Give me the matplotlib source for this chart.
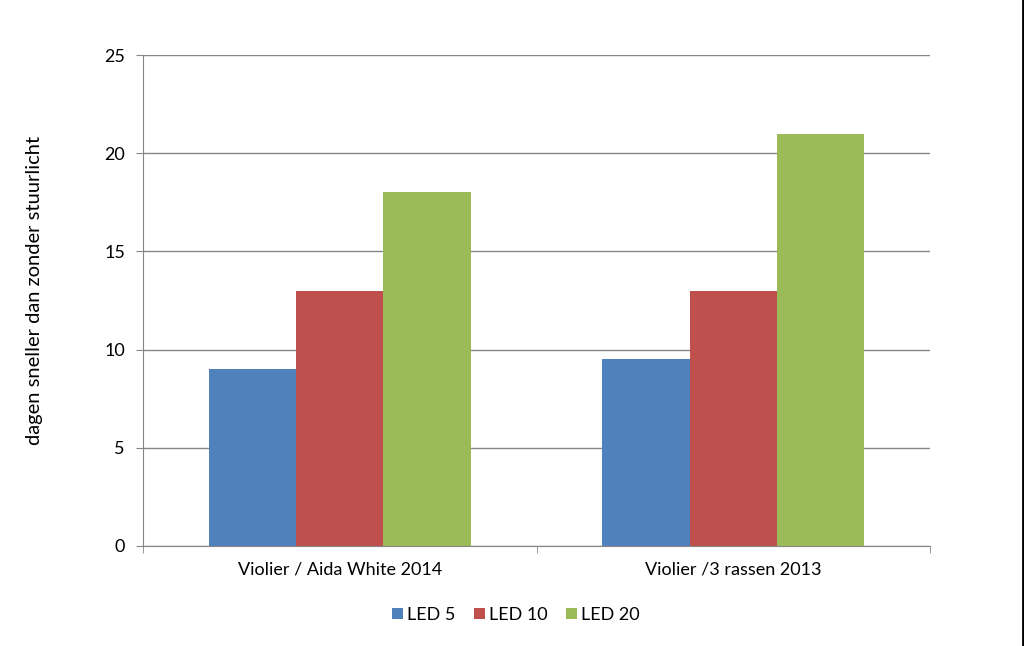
import numpy as np
import matplotlib.pyplot as plt
from matplotlib.lines import Line2D

categories = ['Violier / Aida White 2014', 'Violier /3 rassen 2013']
series = ['LED 5', 'LED 10', 'LED 20']
led5 = [9, 9.5]
led10 = [13, 13]
led20 = [18, 21]
colors = ['#4f81bd', '#c0504d', '#9bbb59']
yticks = [0, 5, 10, 15, 20, 25]

plt.rcParams['font.family'] = ['Lato', 'DejaVu Sans']

fig = plt.figure(figsize=(10.24, 6.46), dpi=100)
ax = fig.add_axes([143 / 1024, 1 - 546 / 646, 787 / 1024, 491 / 646])

x = np.arange(len(categories))
w = 1 / 4.5
for i, (vals, name) in enumerate(zip([led5, led10, led20], series)):
    ax.bar(x + (i - 1) * w, vals, width=w, color=colors[i], label=name, zorder=2)

ax.set_xlim(-0.5, len(categories) - 0.5)
ax.set_ylim(0, 25)
ax.set_yticks(yticks)
ax.yaxis.grid(True, color='#868686', linewidth=1, zorder=0)
ax.set_axisbelow(True)

for s in ['top', 'right']:
    ax.spines[s].set_visible(False)
ax.spines['left'].set_color('#868686')
ax.spines['bottom'].set_color('#868686')

ax.set_xticks(x)
ax.set_xticklabels(categories, fontsize=13)
ax.tick_params(axis='x', length=0, pad=11)
ax.set_xticks(np.arange(len(categories) + 1) - 0.5, minor=True)
ax.tick_params(axis='x', which='minor', length=5, color='#868686')
ax.tick_params(axis='y', length=5, color='#868686', labelsize=13, pad=8)

ax.set_ylabel('dagen sneller dan zonder stuurlicht', fontsize=14.5)
ax.yaxis.set_label_coords(-100 / 787, 0.52)

ax.legend(loc='center', bbox_to_anchor=(0.474, -0.14), ncol=3,
          frameon=False, fontsize=13, handlelength=0.6, handleheight=0.6,
          handletextpad=0.25, columnspacing=1.0, borderpad=0)

fig.add_artist(Line2D([1022.5 / 1024, 1022.5 / 1024], [0, 1], color='black',
                      linewidth=2, transform=fig.transFigure))

fig.savefig('out.png', dpi=100, facecolor='white')
